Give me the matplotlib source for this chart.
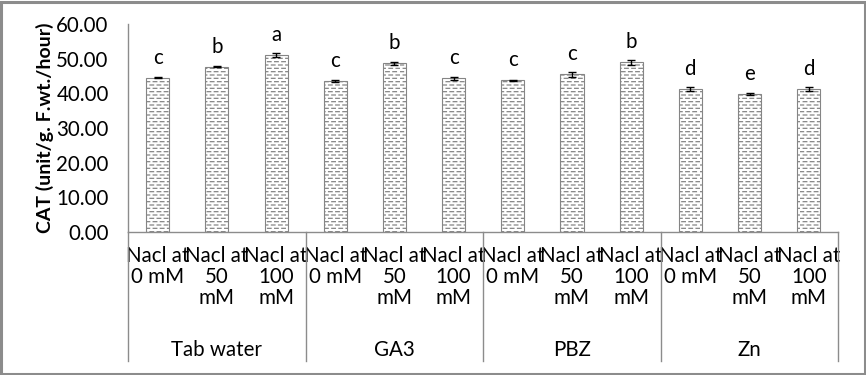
import numpy as np
import matplotlib
matplotlib.use("Agg")
import matplotlib.pyplot as plt
import matplotlib.hatch as mhatch
from matplotlib.path import Path
from matplotlib.patches import Rectangle
from matplotlib.transforms import blended_transform_factory

# Data
groups = ["Tab water", "GA3", "PBZ", "Zn"]
levels = ["Nacl at\n0 mM", "Nacl at\n50\nmM", "Nacl at\n100\nmM"]
cat_values = [44.5, 47.7, 51.0,
              43.6, 48.7, 44.3,
              43.8, 45.5, 49.0,
              41.2, 39.7, 41.2]
cat_errors = [0.2, 0.2, 0.6,
              0.2, 0.4, 0.3,
              0.15, 0.7, 0.7,
              0.5, 0.3, 0.5]
letters = ["c", "b", "a",
           "c", "b", "c",
           "c", "c", "b",
           "d", "e", "d"]


# short staggered dashes, like the Excel "small confetti" fill
class DashHatch(mhatch.HatchPatternBase):
    def __init__(self, hatch, density):
        self.rows = int(hatch.count("_") * density)
        self.per_row = 14 if self.rows else 0
        self.num_vertices = self.rows * self.per_row * 2

    def set_vertices_and_codes(self, vertices, codes):
        k = 0
        step = 1.0 / self.per_row
        for r in range(self.rows):
            y = (r + 0.5) / self.rows
            shift = 0.45 * step if r % 2 else 0.0
            for c in range(self.per_row):
                x0 = c * step + shift
                vertices[k] = (x0, y)
                vertices[k + 1] = (min(x0 + 0.5 * step, 1.0), y)
                codes[k] = Path.MOVETO
                codes[k + 1] = Path.LINETO
                k += 2


mhatch._hatch_types.append(DashHatch)

plt.rcParams["font.family"] = ["Lato", "DejaVu Sans"]
plt.rcParams["hatch.linewidth"] = 0.9
fs = 14.8

fig = plt.figure(figsize=(8.66, 3.75), dpi=100)
ax = fig.add_axes([0.148, 0.381, 0.820, 0.555])

x = np.arange(len(cat_values))
ax.bar(x, cat_values, width=0.39, color="white", edgecolor="#858585",
       linewidth=0.8, hatch="_____", zorder=2)
ax.errorbar(x, cat_values, yerr=cat_errors, fmt="none", ecolor="black",
            elinewidth=1, capsize=3, capthick=1, zorder=3)

for xi, v, lab in zip(x, cat_values, letters):
    ax.annotate(lab, (xi, v), xytext=(0, 14.5), textcoords="offset points",
                ha="center", va="center", fontsize=fs)

ax.set_xlim(-0.5, len(cat_values) - 0.5)
ax.set_ylim(0, 60)
ax.set_yticks(np.arange(0, 61, 10))
ax.set_yticklabels(["%.2f" % t for t in np.arange(0, 61, 10)], fontsize=fs)
ax.set_xticks(x)
ax.set_xticklabels(levels * len(groups), fontsize=fs, linespacing=1.06,
                   va="top")
ax.tick_params(axis="both", length=0)
ax.tick_params(axis="y", pad=14)
ax.tick_params(axis="x", pad=10)

ax.set_ylabel("CAT (unit/g. F.wt./hour)", fontsize=fs - 0.8,
              fontweight="bold", labelpad=2)

for s in ["top", "right"]:
    ax.spines[s].set_visible(False)
for s in ["left", "bottom"]:
    ax.spines[s].set_color("#8c8c8c")
    ax.spines[s].set_linewidth(1)

# multi-level axis: separators and group labels
trans = blended_transform_factory(ax.transData, ax.transAxes)
for b in np.arange(-0.5, len(cat_values), 3):
    ax.plot([b, b], [0, -0.62], transform=trans, color="#8c8c8c", lw=1,
            clip_on=False)
for i, g in enumerate(groups):
    ax.text(3 * i + 1, -0.567, g, transform=trans, ha="center", va="center",
            fontsize=fs)

# outer chart border
fig.patches.append(Rectangle((0.0017, 0.004), 0.9966, 0.992,
                             transform=fig.transFigure, fill=False,
                             edgecolor="#8c8c8c", linewidth=2.2))

fig.savefig("out.png", dpi=100)
